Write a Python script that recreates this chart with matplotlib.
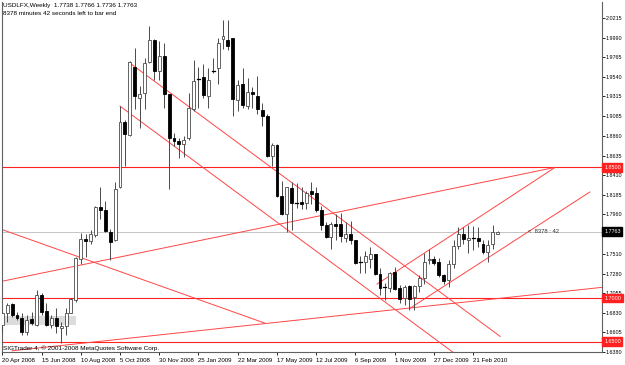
import matplotlib
matplotlib.use('Agg')
import matplotlib.pyplot as plt
import matplotlib.transforms as mtransforms
from matplotlib.patches import Rectangle

# weekly USDLFX candles, 20 Apr 2008 .. 28 Mar 2010
opens = [
    1.6688, 1.6825, 1.6927, 1.6806, 1.6775, 1.6615, 1.6756, 1.6691, 1.7034, 1.6851,
    1.6691, 1.6768, 1.6653, 1.6680, 1.6832, 1.6977, 1.7453, 1.7681, 1.7655, 1.7719,
    1.8043, 1.8005, 1.7758, 1.7662, 1.8271, 1.9021, 1.8873, 1.9650, 1.9299, 1.9356,
    1.9707, 1.9966, 1.9604, 1.9775, 1.9337, 1.8842, 1.8805, 1.8774, 1.8842, 1.9166,
    1.9524, 1.9543, 1.9318, 1.9600, 1.9642, 1.9973, 1.9966, 1.9985, 1.9269, 1.9452,
    1.9204, 1.9364, 1.9318, 1.9158, 1.9090, 1.8633, 1.8759, 1.8176, 1.7967, 1.8264,
    1.8089, 1.8100, 1.8089, 1.8226, 1.8203, 1.8005, 1.7841, 1.7700, 1.7853, 1.7845,
    1.7693, 1.7738, 1.7662, 1.7410, 1.7415, 1.7453, 1.7502, 1.7274, 1.7118, 1.7110,
    1.7293, 1.7118, 1.6996, 1.7137, 1.7015, 1.7137, 1.7224, 1.7441, 1.7445, 1.7415,
    1.7263, 1.7205, 1.7388, 1.7594, 1.7738, 1.7670, 1.7681, 1.7693, 1.7624, 1.7529,
    1.7617, 1.7738]
highs = [
    1.6844, 1.6939, 1.6939, 1.6844, 1.6825, 1.6806, 1.6844, 1.7091, 1.7061, 1.6939,
    1.6806, 1.6882, 1.6730, 1.6882, 1.6996, 1.7472, 1.7746, 1.7738, 1.7777, 1.8062,
    1.8279, 1.8119, 1.7796, 1.8329, 1.9204, 1.9040, 1.9718, 1.9870, 1.9433, 1.9756,
    2.0118, 1.9977, 1.9946, 1.9927, 1.9337, 1.8900, 1.8842, 1.8861, 1.9356, 1.9737,
    1.9650, 1.9688, 1.9642, 1.9756, 1.9985, 2.0194, 2.0194, 1.9985, 1.9509, 1.9642,
    1.9528, 1.9421, 1.9547, 1.9242, 1.9117, 1.8785, 1.8766, 1.8340, 1.8279, 1.8329,
    1.8317, 1.8271, 1.8233, 1.8329, 1.8271, 1.8062, 1.7872, 1.7872, 1.7967, 1.7974,
    1.7872, 1.7883, 1.7670, 1.7480, 1.7540, 1.7586, 1.7510, 1.7339, 1.7175, 1.7301,
    1.7358, 1.7148, 1.7148, 1.7148, 1.7148, 1.7263, 1.7517, 1.7567, 1.7480, 1.7464,
    1.7274, 1.7441, 1.7662, 1.7815, 1.7815, 1.7834, 1.7822, 1.7815, 1.7662, 1.7662,
    1.7834, 1.7766]
lows = [
    1.6615, 1.6730, 1.6787, 1.6749, 1.6577, 1.6577, 1.6691, 1.6673, 1.6806, 1.6673,
    1.6653, 1.6596, 1.6482, 1.6577, 1.6825, 1.6958, 1.7396, 1.7472, 1.7624, 1.7700,
    1.7910, 1.7758, 1.7441, 1.7655, 1.8264, 1.8519, 1.8861, 1.9166, 1.8957, 1.9166,
    1.9699, 1.9509, 1.9509, 1.9185, 1.8252, 1.8747, 1.8606, 1.8614, 1.8812, 1.9147,
    1.9185, 1.9299, 1.9185, 1.9585, 1.9452, 1.9859, 1.9851, 1.9090, 1.9147, 1.9177,
    1.9166, 1.9185, 1.9109, 1.8976, 1.8622, 1.8519, 1.8165, 1.7948, 1.7758, 1.7777,
    1.8035, 1.8024, 1.8024, 1.8081, 1.7986, 1.7777, 1.7693, 1.7567, 1.7662, 1.7643,
    1.7643, 1.7624, 1.7388, 1.7282, 1.7282, 1.7339, 1.7263, 1.7034, 1.6977, 1.7072,
    1.7091, 1.6939, 1.6920, 1.6863, 1.6863, 1.7072, 1.7160, 1.7396, 1.7377, 1.7244,
    1.7160, 1.7129, 1.7339, 1.7567, 1.7624, 1.7517, 1.7548, 1.7586, 1.7510, 1.7415,
    1.7567, 1.7736]
closes = [
    1.6825, 1.6920, 1.6806, 1.6775, 1.6615, 1.6749, 1.6718, 1.7034, 1.6836, 1.6691,
    1.6768, 1.6673, 1.6680, 1.6832, 1.6984, 1.7460, 1.7681, 1.7651, 1.7738, 1.8043,
    1.8013, 1.7765, 1.7643, 1.8252, 1.9025, 1.8880, 1.9707, 1.9318, 1.9345, 1.9699,
    1.9966, 1.9604, 1.9775, 1.9337, 1.8842, 1.8805, 1.8766, 1.8816, 1.9177, 1.9497,
    1.9520, 1.9330, 1.9509, 1.9606, 1.9927, 2.0004, 1.9889, 1.9280, 1.9444, 1.9216,
    1.9368, 1.9337, 1.9166, 1.9090, 1.8633, 1.8759, 1.8176, 1.7967, 1.8271, 1.8089,
    1.8093, 1.8081, 1.8207, 1.8195, 1.8005, 1.7834, 1.7700, 1.7845, 1.7830, 1.7708,
    1.7738, 1.7662, 1.7403, 1.7415, 1.7480, 1.7502, 1.7274, 1.7110, 1.7122, 1.7282,
    1.7099, 1.6988, 1.7122, 1.6984, 1.7137, 1.7224, 1.7415, 1.7449, 1.7403, 1.7263,
    1.7198, 1.7396, 1.7594, 1.7738, 1.7681, 1.7693, 1.7685, 1.7655, 1.7529, 1.7613,
    1.7758, 1.7763]

date_labels = ['20 Apr 2008', '15 Jun 2008', '10 Aug 2008', '5 Oct 2008', '30 Nov 2008',
               '25 Jan 2009', '22 Mar 2009', '17 May 2009', '12 Jul 2009', '6 Sep 2009',
               '1 Nov 2009', '27 Dec 2009', '21 Feb 2010']
date_bars = [0, 8, 16, 24, 32, 40, 48, 56, 64, 72, 80, 88, 96]

price_ticks = [2.0215, 1.9990, 1.9765, 1.9540, 1.9315, 1.9085, 1.8860, 1.8635, 1.8410,
               1.8185, 1.7960, 1.7510, 1.7280, 1.7055, 1.6830, 1.6605, 1.6380]
levels = [1.8500, 1.7000, 1.6500]
bid = 1.7763

# trendlines as (bar, price) pairs
trendlines = [
    [(25.8, 1.9706), (101.5, 1.6559)],
    [(24.0, 1.9203), (95.0, 1.6247)],
    [(-0.5, 1.7795), (53.6, 1.6710)],
    [(2.0, 1.6394), (123.0, 1.7127)],
    [(-0.5, 1.7187), (112.7, 1.8500)],
    [(76.4, 1.7160), (112.7, 1.8500)],
    [(83.1, 1.6882), (119.8, 1.8218)],
]
grey_box = (0.2, 15.0, 1.6691, 1.6794)

RED = '#ff2020'
WICK = '#4a4a4a'
plt.rcParams['font.family'] = ['Liberation Sans', 'DejaVu Sans']

fig = plt.figure(figsize=(6.25, 3.65), dpi=100)
ax = fig.add_axes([2 / 625, 13 / 365, 599.7 / 625, 350 / 365])
ax.set_xlim(-0.06, 122.2)
ax.set_ylim(1.6402, 2.0399)

x0, x1, y0, y1 = grey_box
ax.add_patch(Rectangle((x0, y0), x1 - x0, y1 - y0, facecolor='#dcdcdc', edgecolor='none', zorder=1))

ax.axhline(bid, color='#c4c4c4', lw=0.7, zorder=1)
for lv in levels:
    ax.axhline(lv, color=RED, lw=0.8, zorder=2)
for (xa, ya), (xb, yb) in trendlines:
    ax.plot([xa, xb], [ya, yb], color='#ff4545', lw=0.7, zorder=2)

w = 0.6
for i in range(len(opens)):
    o, h, l, c = opens[i], highs[i], lows[i], closes[i]
    ax.plot([i, i], [l, h], color=WICK, lw=0.7, zorder=3, solid_capstyle='butt')
    lo, hi = min(o, c), max(o, c)
    if hi - lo < 0.0006:
        ax.plot([i - w / 2, i + w / 2], [c, c], color='black', lw=0.9, zorder=4)
        continue
    fc = 'white' if c > o else 'black'
    ec = WICK if c > o else 'black'
    ax.add_patch(Rectangle((i - w / 2, lo), w, hi - lo, facecolor=fc, edgecolor=ec, lw=0.6, zorder=4))

ax.text(107.2, bid, '<  8378 : 42', fontsize=4.2, va='center', color='#303030', zorder=5)

ax.spines['top'].set_visible(False)
for s in ['left', 'bottom', 'right']:
    ax.spines[s].set_linewidth(0.8)
    ax.spines[s].set_color('#606060')

ax.yaxis.tick_right()
ax.set_yticks(price_ticks)
ax.set_yticklabels(['%.4f' % p for p in price_ticks])
ax.tick_params(axis='y', length=2, width=0.6, pad=1, labelsize=3.9, colors='black')
ax.set_xticks(date_bars)
ax.set_xticklabels(date_labels)
ax.tick_params(axis='x', length=2.5, width=0.6, pad=1.5, labelsize=4.4, colors='black')
for lab in ax.get_xticklabels():
    lab.set_ha('left')

trans = mtransforms.blended_transform_factory(ax.transAxes, ax.transData)
for lv in levels:
    ax.text(1.004, lv, '%.4f' % lv, transform=trans, fontsize=3.9, color='white', va='center',
            ha='left', zorder=10, bbox=dict(boxstyle='square,pad=0.3', fc=RED, ec=RED), clip_on=False)
ax.text(1.004, bid, '%.4f' % bid, transform=trans, fontsize=3.9, color='white', va='center',
        ha='left', zorder=10, bbox=dict(boxstyle='square,pad=0.3', fc='black', ec='black'), clip_on=False)

fig.text(3 / 625, 1 - 3 / 365, 'USDLFX,Weekly  1.7738 1.7766 1.7736 1.7763', fontsize=4.6, va='top', ha='left')
fig.text(3 / 625, 1 - 11 / 365, '8378 minutes 42 seconds left to bar end', fontsize=4.6, va='top', ha='left')
fig.text(3 / 625, 14 / 365, 'SIGTrader 4, \u00a9 2001-2008 MetaQuotes Software Corp.', fontsize=4.6,
         va='bottom', ha='left')

fig.savefig('out.png', dpi=100, facecolor='white')
